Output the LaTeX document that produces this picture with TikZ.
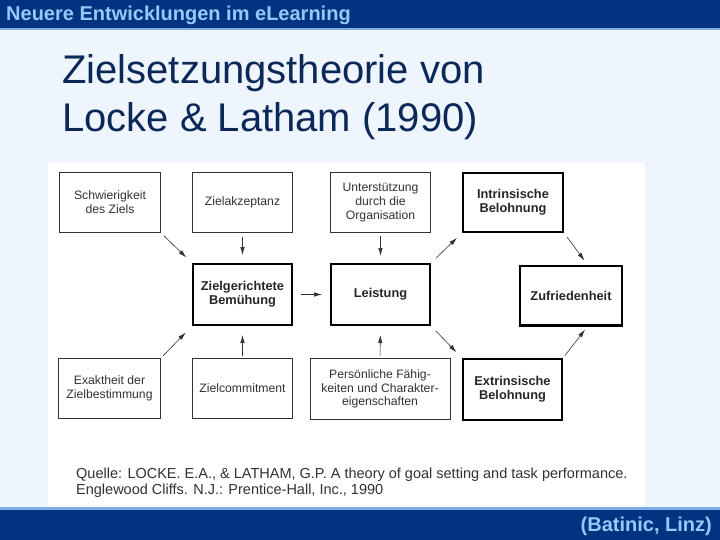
\documentclass[tikz,border=0pt]{standalone}
\usepackage{fontspec}
\setmainfont{Liberation Sans}
\usetikzlibrary{arrows.meta}
\definecolor{barblue}{RGB}{0,52,128}
\definecolor{barline}{RGB}{125,172,230}
\definecolor{headtext}{RGB}{150,200,250}
\definecolor{pagebg}{RGB}{238,245,253}
\definecolor{titleblue}{RGB}{12,40,88}
\definecolor{inkgray}{RGB}{50,50,50}

\begin{document}
\begin{tikzpicture}[x=1pt, y=-1pt,
        thinbox/.style={draw=inkgray, line width=0.8pt, fill=white, inner sep=0pt, align=center, text=inkgray, font=\fontsize{12.2}{13.8}\selectfont},
        thickbox/.style={draw=black, line width=2.4pt, fill=white, inner sep=0pt, align=center, text=black!85, font=\fontsize{12.8}{14.3}\selectfont\bfseries},
        pfeil/.style={-{Latex[length=8pt,width=4.5pt]}, draw=inkgray, line width=0.6pt},
        quelle/.style={anchor=base west, inner sep=0pt, text=inkgray, font=\fontsize{14.5}{16}\selectfont}]
                            \fill[pagebg] (0,0) rectangle (720,540);
                            \fill[barblue] (0,0) rectangle (720,28);
                            \fill[barline] (0,28) rectangle (720,30.5);
                            \fill[white] (48,163) rectangle (645,508);
                            \fill[barline] (0,507) rectangle (720,509.5);
                            \fill[barblue] (0,509.5) rectangle (720,540);

                            \node (kopf)[anchor=base west, inner sep=0pt, text=headtext, font=\fontsize{20}{24}\selectfont\bfseries] at (6,21) {Neuere Entwicklungen im eLearning};
                            \node (titel1)[anchor=base west, inner sep=0pt, text=titleblue, font=\fontsize{40}{48}\selectfont] at (62,84) {Zielsetzungstheorie von};
                            \node (titel2)[anchor=base west, inner sep=0pt, text=titleblue, font=\fontsize{40}{48}\selectfont] at (62,132) {Locke \& Latham (1990)};

                            \node (schw)[thinbox, minimum width=101, minimum height=60] at (110, 202.5) {Schwierigkeit\\des Ziels};
                            \node (akz)[thinbox, minimum width=100, minimum height=60] at (242.5, 202.5) {Zielakzeptanz};
                            \node (unt)[thinbox, minimum width=100, minimum height=60] at (380.5, 202.5) {Unterstützung\\durch die\\Organisation};
                            \node (intr)[thickbox, minimum width=99.6, minimum height=58.6] at (513, 202.5) {Intrinsische\\Belohnung};
                            \node (zielg)[thickbox, minimum width=98.6, minimum height=60.6] at (242.5, 294.5) {Zielgerichtete\\Bemühung};
                            \node (leist)[thickbox, minimum width=98.6, minimum height=60.6] at (380.5, 294.5) {Leistung};
                            \node (zufr)[thickbox, minimum width=101.6, minimum height=59.6] at (571, 295.5) {Zufriedenheit};
                            \node (exakt)[thinbox, minimum width=102, minimum height=60] at (109.5, 388.5) {Exaktheit der\\Zielbestimmung};
                            \node (commit)[thinbox, minimum width=100, minimum height=60] at (242.5, 388.5) {Zielcommitment};
                            \node (pers)[thinbox, minimum width=140, minimum height=61] at (380, 389) {Persönliche Fähig-\\keiten und Charakter-\\eigenschaften};
                            \node (extr)[thickbox, minimum width=98.6, minimum height=60.6] at (512.5, 389.5) {Extrinsische\\Belohnung};

                            \draw[pfeil, shorten <=4pt, shorten >=8pt] (schw.south east) -- (zielg.north west);
                            \draw[pfeil, shorten <=4.5pt, shorten >=8pt] (akz.south) -- (zielg.north);
                            \draw[pfeil, shorten <=3.5pt, shorten >=7pt] (unt.south) -- (leist.north);
                            \draw[pfeil, shorten <=8pt, shorten >=8pt] (zielg.east) -- (leist.west);
                            \draw[pfeil, shorten <=7pt, shorten >=7pt] (leist.north east) -- (intr.south west);
                            \draw[pfeil, shorten <=5pt, shorten >=5pt] (intr.south east) -- (zufr.62);
                            \draw[pfeil, shorten <=3pt, shorten >=9pt] (exakt.north east) -- (zielg.south west);
                            \draw[pfeil, shorten <=2.5pt, shorten >=9pt] (commit.north) -- (zielg.south);
                            \draw[pfeil, shorten <=2.5pt, shorten >=9pt] (pers.north) -- (leist.south);
                            \draw[pfeil, shorten <=7pt, shorten >=8pt] (leist.south east) -- (extr.north west);
                            \draw[pfeil, shorten <=3pt, shorten >=4pt] (extr.north east) -- (zufr.-62);

                            \node (quelle1)[quelle] at (76, 478) {Quelle: LOCKE. E.A., \& LATHAM, G.P. A theory of goal setting and task performance.};
                            \node (quelle2)[quelle] at (76, 494) {Englewood Cliffs. N.J.: Prentice-Hall, Inc., 1990};

                            \node (fuss)[anchor=base east, inner sep=0pt, text=headtext, font=\fontsize{20}{24}\selectfont\bfseries] at (712, 531) {(Batinic, Linz)};
                        \end{tikzpicture}
\end{document}
